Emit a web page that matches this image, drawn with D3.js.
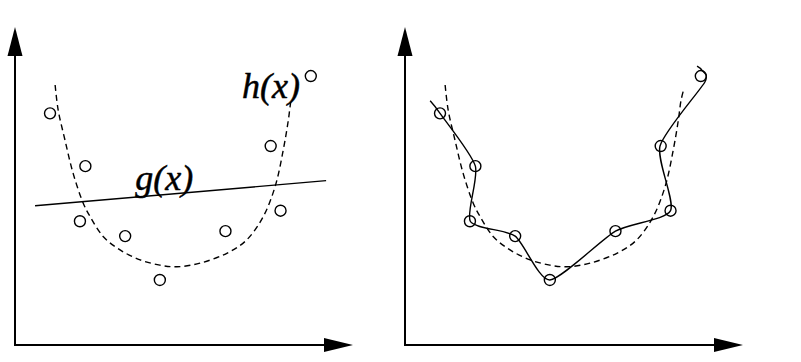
<!DOCTYPE html>
<html>
<head>
<meta charset="utf-8">
<script src="https://cdn.jsdelivr.net/npm/d3@7"></script>
<style>
	html, body { margin: 0; padding: 0; background: #fff; }
	svg { display: block; }
</style>
</head>
<body>
<div id="chart"></div>
<script>
// noisy samples (same in both panels)
var sampleX = [1.03, 2.07, 1.91, 3.24, 4.26, 6.19, 7.52, 7.81, 8.70];
var sampleY = [7.02, 5.42, 3.75, 3.30, 1.97, 3.45, 6.03, 4.07, 8.15];

// h(x), the dashed U curve
var hX = [1.18, 1.27, 1.47, 1.71, 2.01, 2.21, 2.60, 3.09, 3.68, 4.26, 4.76,
					5.44, 6.23, 6.81, 7.30, 7.65, 7.89, 8.04, 8.12, 8.21];
var hY = [7.88, 7.12, 6.21, 5.20, 4.29, 3.89, 3.28, 2.88, 2.58, 2.42, 2.37,
					2.48, 2.78, 3.18, 3.89, 4.80, 5.91, 6.82, 7.42, 7.79];

// g(x), the straight fit
var gX = [0.59, 9.15];
var gY = [4.22, 4.98];

// overfitted curve of the right panel
var fitX = [0.74, 1.03, 2.07, 1.92, 3.24, 4.26, 6.19, 7.81, 7.50, 8.82, 8.73, 8.59];
var fitY = [7.40, 7.02, 5.42, 3.75, 3.30, 1.97, 3.45, 4.07, 6.03, 7.97, 8.33, 8.45];

var labels = [
	{ text: 'h(x)', x: 6.68, y: 7.48, box: true },
	{ text: 'g(x)', x: 3.54, y: 4.70, box: false }
];

function degplot ()	{
	'use strict';

	var width = 801,
			height = 362,
			panelGap = 390;

	function zip (xs, ys)	{
		return xs.map(function (d, i)	{ return [d, ys[i]]; });
	};

	function makeSVG (el)	{
		return d3.select(el).append('svg')
						 .attr('width', width)
						 .attr('height', height);
	};

	function drawAxes (g, x, y)	{
		var ox = x(0), oy = y(0),
				xTip = ox + 338, yTip = oy - 318;

		g.append('line')
		 .attr('x1', ox).attr('y1', oy)
		 .attr('x2', xTip - 26).attr('y2', oy)
		 .attr('stroke', '#000').attr('stroke-width', 2);
		g.append('line')
		 .attr('x1', ox).attr('y1', oy + 1)
		 .attr('x2', ox).attr('y2', yTip + 27)
		 .attr('stroke', '#000').attr('stroke-width', 2);

		g.append('path')
		 .attr('d', 'M' + xTip + ',' + oy + 'L' + (xTip - 29) + ',' + (oy - 7) +
		 					  'L' + (xTip - 29) + ',' + (oy + 7) + 'Z')
		 .attr('fill', '#000');
		g.append('path')
		 .attr('d', 'M' + ox + ',' + yTip + 'L' + (ox - 7.5) + ',' + (yTip + 29) +
		 					  'L' + (ox + 7.5) + ',' + (yTip + 29) + 'Z')
		 .attr('fill', '#000');
	};

	function drawSamples (g, x, y)	{
		g.selectAll('circle.sample')
		 .data(zip(sampleX, sampleY))
		 .enter().append('circle')
		 .attr('class', 'sample')
		 .attr('cx', function (d)	{ return x(d[0]); })
		 .attr('cy', function (d)	{ return y(d[1]); })
		 .attr('r', 5.5)
		 .attr('fill', 'none')
		 .attr('stroke', '#000')
		 .attr('stroke-width', 1.4);
	};

	function drawCurve (g, x, y, pts, curve, dash)	{
		var line = d3.line()
								 .x(function (d)	{ return x(d[0]); })
								 .y(function (d)	{ return y(d[1]); })
								 .curve(curve);

		g.append('path')
		 .attr('d', line(pts))
		 .attr('fill', 'none')
		 .attr('stroke', '#000')
		 .attr('stroke-width', 1.4)
		 .attr('stroke-dasharray', dash || null);
	};

	function drawLabel (g, x, y, lb)	{
		var t = g.append('text')
						 .attr('x', x(lb.x))
						 .attr('y', y(lb.y))
						 .style('font-family', "'Liberation Serif', 'Times New Roman', Times, serif")
						 .style('font-style', 'italic')
						 .style('font-size', '36px')
						 .attr('stroke', '#000')
						 .attr('stroke-width', 0.5)
						 .text(lb.text);

		if (lb.box)	{
			var bb = t.node().getBBox();
			g.insert('rect', 'text')
			 .attr('x', bb.x).attr('y', bb.y + 4)
			 .attr('width', bb.width).attr('height', bb.height - 8)
			 .attr('fill', '#fff');
		}
	};

	return function (opts)	{
		var svg = makeSVG(opts.element);

		var x = d3.scaleLinear().domain([0, 10]).range([0, 340]),
				y = d3.scaleLinear().domain([0, 10]).range([330, 0]);

		var left = svg.append('g').attr('transform', 'translate(15, 15)'),
				right = svg.append('g').attr('transform', 'translate(' + (15 + panelGap) + ', 15)');

		// left panel: samples, h(x) and g(x)
		drawCurve(left, x, y, zip(hX, hY), d3.curveCatmullRom, '6,4');
		drawCurve(left, x, y, zip(gX, gY), d3.curveLinear);
		labels.forEach(function (lb)	{ drawLabel(left, x, y, lb); });
		drawSamples(left, x, y);
		drawAxes(left, x, y);

		// right panel: samples, h(x) and the overfit
		drawCurve(right, x, y, zip(hX, hY), d3.curveCatmullRom, '6,4');
		drawCurve(right, x, y, zip(fitX, fitY), d3.curveCardinal.tension(0.35));
		drawSamples(right, x, y);
		drawAxes(right, x, y);
	};
};

degplot()({ element: '#chart' });
</script>
</body>
</html>
